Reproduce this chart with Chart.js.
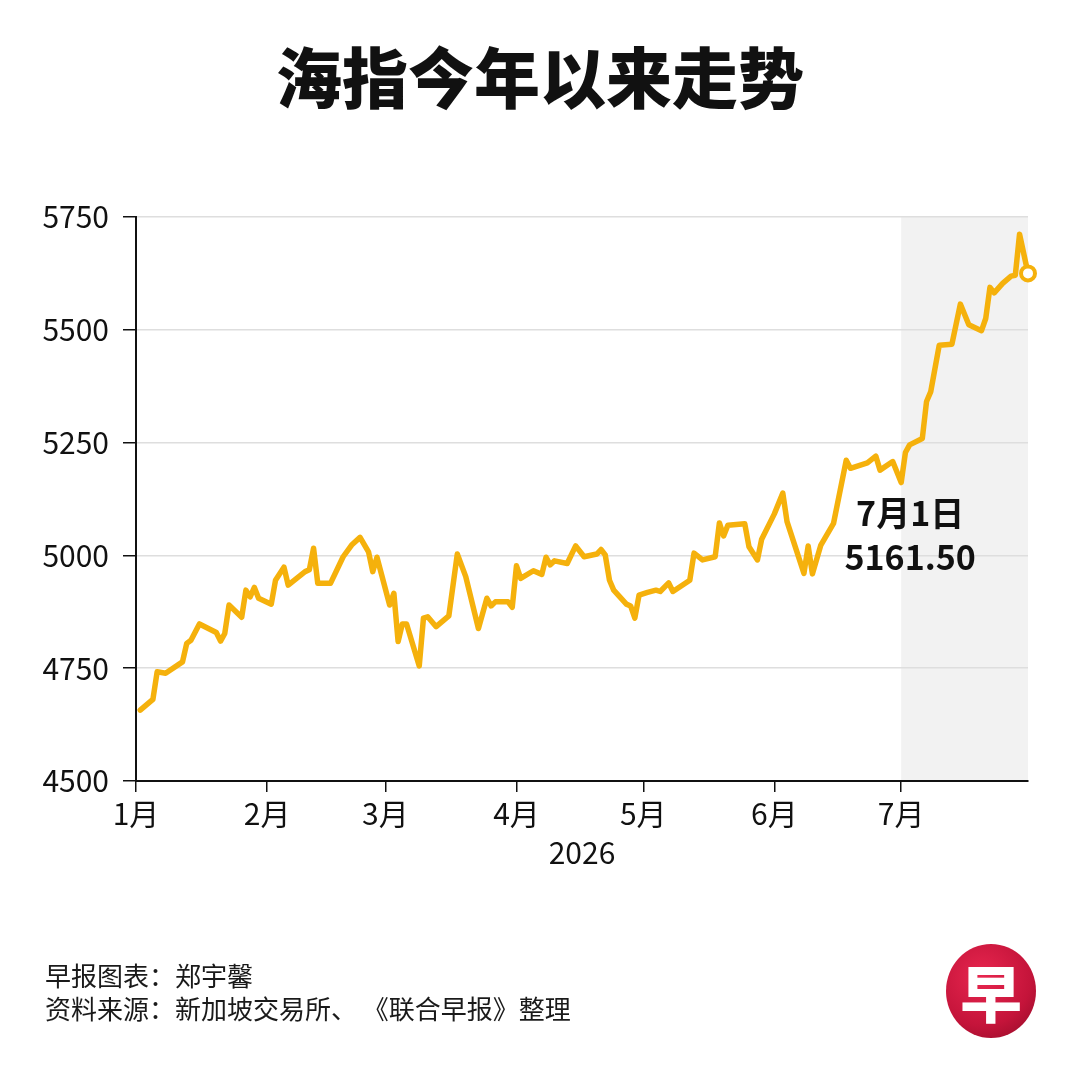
<!DOCTYPE html>
<html>
<head>
<meta charset="utf-8">
<script src="https://cdn.jsdelivr.net/npm/chart.js@4/dist/chart.umd.min.js"></script>
<style>
  body { margin: 0; background: #fff; font-family: "Noto Sans CJK SC", sans-serif; }
  #page { position: relative; width: 1080px; height: 1080px; overflow: hidden; background: #fff; }
  #title { position: absolute; top: 34px; left: 0; width: 1080px; text-align: center; font-size: 66px; font-weight: 900; color: #111; margin: 0; line-height: 80px; }
  #chartBox { position: absolute; left: 0; top: 0; width: 1080px; height: 1080px; }
  .note { position: absolute; left: 45px; font-size: 26px; color: #1a1a1a; line-height: 33px; font-feature-settings: "halt" 0; }
  #logo { position: absolute; left: 946px; top: 944px; width: 90px; height: 94px; border-radius: 50%;
          background: radial-gradient(circle at 40% 35%, #e8264f 0%, #c4143a 60%, #8e0a26 100%);
          color: #fff; font-size: 62px; font-weight: 900; text-align: center; line-height: 94px; font-family: "Noto Sans CJK SC", serif; }
</style>
</head>
<body>
<div id="page">
  <h1 id="title">海指今年以来走势</h1>
  <div id="chartBox"><canvas id="myChart"></canvas></div>
  <div class="note" style="top:958px">早报图表：郑宇馨</div>
  <div class="note" style="top:991px">资料来源：新加坡交易所、 《联合早报》整理</div>
  <div id="logo">早</div>
</div>
<script>
// day of year (0 = 1 Jan 2026) and closing values
const days = [1, 4, 5, 7, 11, 12, 13, 15, 19, 20, 21, 22, 25, 26, 27, 28, 29, 32, 33, 35, 36, 38, 40, 41, 42, 43, 46, 49, 51, 53, 55, 56, 57,
  60, 61, 62, 63, 64, 67, 68, 69, 71, 74, 76, 78, 81, 83, 84, 85, 88, 89,
  90, 91, 94, 96, 97, 98, 99, 102, 104, 106, 109, 110, 111, 112, 113, 116, 117, 118, 119,
  121, 123, 124, 126, 127, 131, 132, 134, 137, 138, 139, 140, 144, 145, 147, 148,
  151, 153, 154, 158, 159, 160, 162, 165, 168, 169, 173, 175, 176, 179,
  181, 182, 183, 186, 187, 188, 190, 193, 195, 197, 200, 201, 202, 203, 205, 207, 208, 209, 211];
const values = [4657, 4681, 4742, 4739, 4764, 4805, 4812, 4848, 4829, 4810, 4827, 4890, 4863, 4923, 4908, 4929, 4905, 4892, 4945, 4974, 4934, 4949, 4964, 4968, 5016, 4938, 4938, 4997, 5023, 5040, 5008, 4964, 4996,
  4890, 4916, 4809, 4848, 4848, 4755, 4861, 4864, 4842, 4866, 5003, 4953, 4838, 4905, 4888, 4897, 4897, 4885,
  4977, 4949, 4966, 4958, 4996, 4979, 4988, 4982, 5021, 4997, 5003, 5013, 5001, 4945, 4923, 4892, 4888, 4861, 4912,
  4918, 4923, 4920, 4939, 4920, 4945, 5005, 4990, 4997, 5072, 5043, 5067, 5070, 5019, 4990, 5036,
  5092, 5138, 5075, 4960, 5021, 4959, 5023, 5071, 5211, 5193, 5205, 5220, 5189, 5208,
  5161.5, 5228, 5245, 5259, 5341, 5363, 5466, 5468, 5557, 5511, 5498, 5525, 5594, 5582, 5603, 5619, 5621, 5712, 5625];

const monthStarts = [0, 31, 59, 90, 120, 151, 181];
const monthLabels = ['1月', '2月', '3月', '4月', '5月', '6月', '7月'];
const yTicks = [4500, 4750, 5000, 5250, 5500, 5750];
const shadeFrom = 181;
const noteDay = 181;
const noteLines = ['7月1日', '5161.50'];

const lineColor = '#F5B10C';
const font = '"Noto Sans CJK SC", "Noto Sans", sans-serif';

const shadePlugin = {
  id: 'shade',
  beforeDraw(chart) {
    const { ctx, chartArea, scales } = chart;
    const x0 = scales.x.getPixelForValue(shadeFrom);
    ctx.save();
    ctx.fillStyle = '#f2f2f2';
    ctx.fillRect(x0, chartArea.top, chartArea.right - x0, chartArea.bottom - chartArea.top);
    ctx.restore();
  }
};

const notePlugin = {
  id: 'note',
  afterDatasetsDraw(chart) {
    const { ctx, scales } = chart;
    const i = days.indexOf(noteDay);
    const x = scales.x.getPixelForValue(noteDay) + 9;
    const y = scales.y.getPixelForValue(values[i]);
    ctx.save();
    ctx.fillStyle = '#111';
    ctx.font = 'bold 34px ' + font;
    ctx.textAlign = 'center';
    ctx.textBaseline = 'middle';
    ctx.fillText(noteLines[0], x, y + 31);
    ctx.fillText(noteLines[1], x, y + 75);
    ctx.restore();
  }
};

const points = days.map((d, i) => ({ x: d, y: values[i] }));
const last = points.length - 1;

const ctx = document.getElementById('myChart').getContext('2d');
const myChart = new Chart(ctx, {
  type: 'line',
  data: {
    datasets: [{
      data: points,
      borderColor: lineColor,
      borderWidth: 5.5,
      borderJoinStyle: 'round',
      borderCapStyle: 'round',
      tension: 0,
      pointRadius: c => c.dataIndex === last ? 7 : 0,
      pointBorderWidth: 4,
      pointBackgroundColor: '#fff',
      pointBorderColor: lineColor,
      clip: false
    }]
  },
  options: {
    responsive: true,
    maintainAspectRatio: false,
    animation: false,
    layout: { padding: { top: 217, right: 52, left: 0, bottom: 209 } },
    plugins: { legend: { display: false }, tooltip: { enabled: false } },
    scales: {
      x: {
        type: 'linear',
        min: 0,
        max: 211,
        afterBuildTicks: scale => { scale.ticks = monthStarts.map(v => ({ value: v })); },
        afterFit: scale => { scale.height = 90; },
        ticks: {
          callback: (value, index) => monthLabels[index],
          color: '#111',
          font: { family: font, size: 30 },
          padding: 4,
          maxRotation: 0,
          autoSkip: false
        },
        grid: { drawOnChartArea: false, color: '#111', tickLength: 11, lineWidth: 1.5 },
        border: { color: '#111', width: 2 },
        title: { display: true, text: '2026', color: '#111', font: { family: font, size: 30 }, padding: { top: 0, bottom: 0 } }
      },
      y: {
        min: 4500,
        max: 5750,
        afterBuildTicks: scale => { scale.ticks = yTicks.map(v => ({ value: v })); },
        afterFit: scale => { scale.width = 136; },
        ticks: {
          callback: value => String(value),
          color: '#111',
          font: { family: font, size: 30 },
          padding: 14
        },
        grid: { color: '#dedede', lineWidth: 1.5, tickColor: '#111', tickLength: 13 },
        border: { color: '#111', width: 2 }
      }
    }
  },
  plugins: [shadePlugin, notePlugin]
});
</script>
</body>
</html>
